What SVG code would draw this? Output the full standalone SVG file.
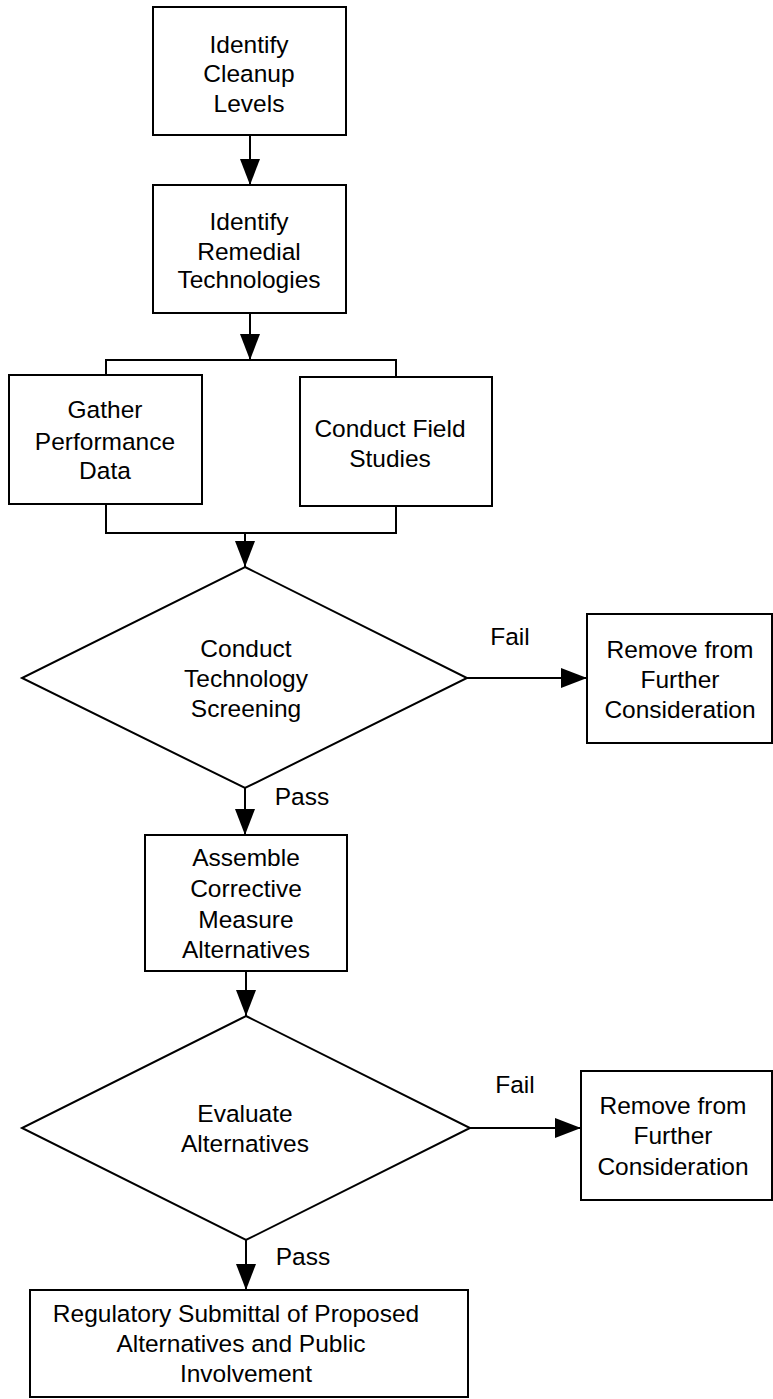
<svg xmlns="http://www.w3.org/2000/svg" width="773" height="1399" viewBox="0 0 773 1399">
<style>
.n{fill:#fff;stroke:#000;stroke-width:2}
.t{font-family:"Liberation Sans",Arial,sans-serif;font-size:24.5px;fill:#000;text-anchor:middle}
.c{fill:none;stroke:#000;stroke-width:2}
</style>
<defs>
<marker id="ah" markerUnits="userSpaceOnUse" markerWidth="26" markerHeight="20" refX="26" refY="10" orient="auto">
<path d="M0,0 L26,10 L0,20 z" fill="#000"/>
</marker>
</defs>
<rect width="773" height="1399" fill="#fff"/>
<g id="connectors">
<path class="c" d="M250,135 V185" marker-end="url(#ah)"/>
<path class="c" d="M250,313 V360" marker-end="url(#ah)"/>
<path class="c" d="M106,375 V360 H396 V377"/>
<path class="c" d="M106,504 V533 H396 V506"/>
<path class="c" d="M245,533 V567" marker-end="url(#ah)"/>
<path class="c" d="M467,678 H587" marker-end="url(#ah)"/>
<path class="c" d="M245,788 V835" marker-end="url(#ah)"/>
<path class="c" d="M246,971 V1016" marker-end="url(#ah)"/>
<path class="c" d="M470,1128 H581" marker-end="url(#ah)"/>
<path class="c" d="M246,1240 V1290" marker-end="url(#ah)"/>
<text class="t" x="510" y="645">Fail</text>
<text class="t" x="302" y="805">Pass</text>
<text class="t" x="515" y="1093">Fail</text>
<text class="t" x="303" y="1265">Pass</text>
</g>
<g id="n1">
<rect class="n" x="153" y="7" width="193" height="128"/>
<text class="t" x="249" y="53">Identify</text>
<text class="t" x="249" y="82">Cleanup</text>
<text class="t" x="249" y="112">Levels</text>
</g>
<g id="n2">
<rect class="n" x="153" y="185" width="193" height="128"/>
<text class="t" x="249" y="230">Identify</text>
<text class="t" x="249" y="260">Remedial</text>
<text class="t" x="249" y="288">Technologies</text>
</g>
<g id="n3">
<rect class="n" x="9" y="375" width="193" height="129"/>
<text class="t" x="105" y="418">Gather</text>
<text class="t" x="105" y="450">Performance</text>
<text class="t" x="105" y="479">Data</text>
</g>
<g id="n4">
<rect class="n" x="300" y="377" width="192" height="129"/>
<text class="t" x="390" y="437">Conduct Field</text>
<text class="t" x="390" y="467">Studies</text>
</g>
<g id="n5">
<polygon class="n" points="245,567 467,678 245,788 22,678"/>
<text class="t" x="246" y="657">Conduct</text>
<text class="t" x="246" y="687">Technology</text>
<text class="t" x="246" y="717">Screening</text>
</g>
<g id="n6">
<rect class="n" x="587" y="614" width="185" height="129"/>
<text class="t" x="680" y="658">Remove from</text>
<text class="t" x="680" y="688">Further</text>
<text class="t" x="680" y="718">Consideration</text>
</g>
<g id="n7">
<rect class="n" x="145" y="835" width="202" height="136"/>
<text class="t" x="246" y="866">Assemble</text>
<text class="t" x="246" y="897">Corrective</text>
<text class="t" x="246" y="928">Measure</text>
<text class="t" x="246" y="958">Alternatives</text>
</g>
<g id="n8">
<polygon class="n" points="246,1016 470,1128 246,1240 22,1128"/>
<text class="t" x="245" y="1122">Evaluate</text>
<text class="t" x="245" y="1152">Alternatives</text>
</g>
<g id="n9">
<rect class="n" x="581" y="1071" width="191" height="129"/>
<text class="t" x="673" y="1114">Remove from</text>
<text class="t" x="673" y="1144">Further</text>
<text class="t" x="673" y="1175">Consideration</text>
</g>
<g id="n10">
<rect class="n" x="30" y="1290" width="438" height="107"/>
<text class="t" x="236" y="1322">Regulatory Submittal of Proposed</text>
<text class="t" x="241" y="1352">Alternatives and Public</text>
<text class="t" x="246" y="1382">Involvement</text>
</g>
</svg>
